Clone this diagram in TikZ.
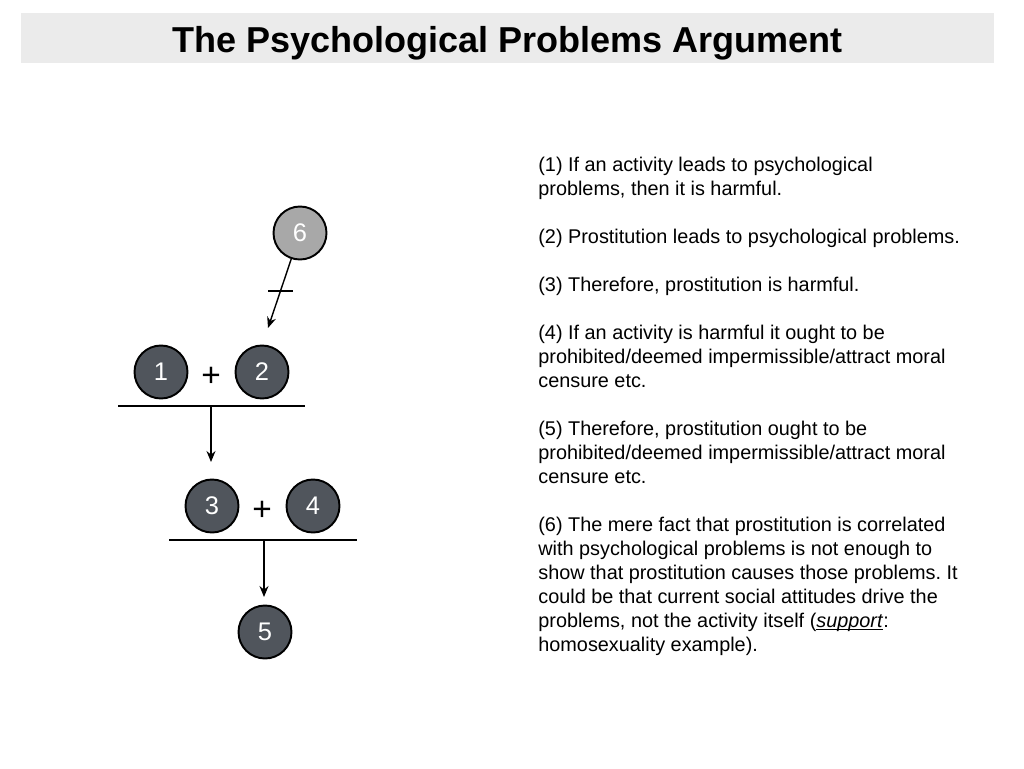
\documentclass[tikz,border=0pt]{standalone}
\usepackage{fontspec}
\setmainfont{Liberation Sans}
\usepackage{xcolor}
\definecolor{argdark}{RGB}{80,85,92}
\definecolor{arggray}{RGB}{168,168,168}
\definecolor{titlegray}{RGB}{235,235,235}
\usepackage{tikz}
\usetikzlibrary{arrows.meta,positioning}
\frenchspacing
\tikzset{
  arg node/.style={draw, circle, line width=1.1pt, fill=argdark, text=white, minimum size=1.06cm, inner sep=0pt, font=\fontsize{14.5}{14.5}\selectfont},
  arg objection/.style={arg node, fill=arggray},
  arg plus/.style={inner sep=0pt, font=\fontsize{19}{19}\selectfont},
  arg bar/.style={line width=1.1pt},
  arg edge/.style={-{Stealth[length=2.2mm, width=1.8mm]}, line width=0.8pt},
  arg text/.style={anchor=north west, align=left, inner sep=0pt, font=\fontsize{11.3}{13.6}\selectfont},
}

\begin{document}
\begin{tikzpicture}[x=0.02cm, y=-0.02cm]
  \useasboundingbox (0,0) rectangle (1024,768);
  \fill[titlegray] (21,13) rectangle (994,63);
  \node[anchor=base, inner sep=0pt, font=\fontsize{20.5}{20.5}\selectfont\bfseries] (title) at (507.5,52) {The Psychological Problems Argument};
  \node[arg objection] (n6) at (300,233) {6};
  \node[arg node] (n1) at (161,372) {1};
  \node[arg node] (n2) at (262,372) {2};
  \node[arg plus] (plusA) at (211,377) {+};
  \node[arg node] (n3) at (212,506) {3};
  \node[arg node] (n4) at (313,506) {4};
  \node[arg plus] (plusB) at (262,511) {+};
  \node[arg node] (n5) at (265,632) {5};
  \coordinate (t6) at (268,328);
  \coordinate (barAl) at (118,406); \coordinate (barAr) at (305,406); \coordinate (barAm) at (211,406); \coordinate (arrA) at (211,462);
  \coordinate (barBl) at (169,540); \coordinate (barBr) at (357,540); \coordinate (barBm) at (264,540); \coordinate (arrB) at (264,597);
  \draw[arg edge] (n6) -- coordinate[pos=0.46] (s6) (t6);
  \draw[arg bar] ([xshift=-0.25cm]s6) -- ([xshift=0.25cm]s6);
  \draw[arg bar] (barAl) -- (barAr); \draw[arg edge] (barAm) -- (arrA);
  \draw[arg bar] (barBl) -- (barBr); \draw[arg edge] (barBm) -- (arrB);
  \node[arg text] (p1) at (538,157) {(1) If an activity leads to psychological\\problems, then it is harmful.};
  \node[arg text] (p2) at (538,229) {(2) Prostitution leads to psychological problems.};
  \node[arg text] (p3) at (538,277) {(3) Therefore, prostitution is harmful.};
  \node[arg text] (p4) at (538,325) {(4) If an activity is harmful it ought to be\\prohibited/deemed impermissible/attract moral\\censure etc.};
  \node[arg text] (p5) at (538,421) {(5) Therefore, prostitution ought to be\\prohibited/deemed impermissible/attract moral\\censure etc.};
  \node[arg text] (p6) at (538,517) {(6) The mere fact that prostitution is correlated\\with psychological problems is not enough to\\show that prostitution causes those problems. It\\could be that current social attitudes drive the\\problems, not the activity itself (\underline{\smash{\textit{support}}}:\\homosexuality example).};
\end{tikzpicture}
\end{document}
